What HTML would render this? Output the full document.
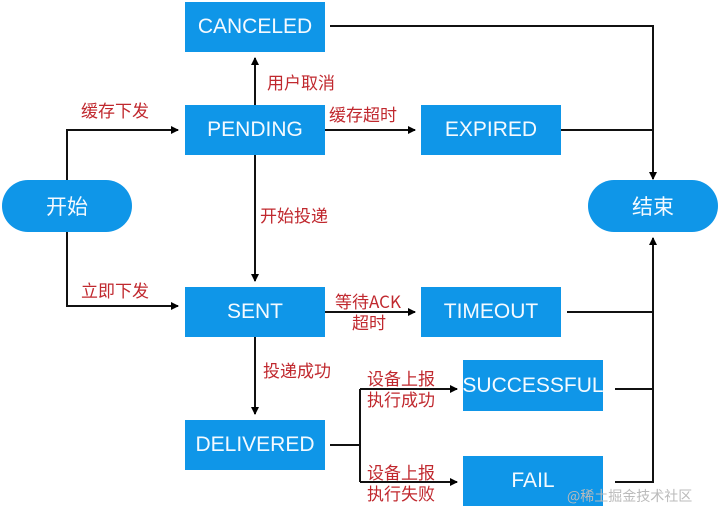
<!DOCTYPE html>
<html><head><meta charset="utf-8"><style>
body{margin:0;background:#fff;}
.w{position:relative;width:720px;height:520px;overflow:hidden;background:#fff;font-family:"Liberation Sans","Noto Sans CJK SC",sans-serif;}
.b{position:absolute;background:#0f96e8;color:#f4faff;display:flex;align-items:center;justify-content:center;font-size:21px;}
.p{border-radius:26px;}
.l{position:absolute;color:#c0282e;font-size:17px;line-height:21px;font-family:"Noto Sans CJK SC",sans-serif;}
svg{position:absolute;left:0;top:0;z-index:1;}
</style></head><body><div class="w">
<div class="b" style="left:185px;top:2px;width:140px;height:50px">CANCELED</div>
<div class="b" style="left:185px;top:105px;width:140px;height:50px">PENDING</div>
<div class="b" style="left:421px;top:105px;width:140px;height:50px">EXPIRED</div>
<div class="b p" style="left:2px;top:180px;width:130px;height:52px">开始</div>
<div class="b p" style="left:588px;top:180px;width:130px;height:52px">结束</div>
<div class="b" style="left:185px;top:287px;width:140px;height:50px">SENT</div>
<div class="b" style="left:421px;top:287px;width:140px;height:50px">TIMEOUT</div>
<div class="b" style="left:463px;top:360px;width:140px;height:51px">SUCCESSFUL</div>
<div class="b" style="left:185px;top:420px;width:140px;height:50px">DELIVERED</div>
<div class="b" style="left:463px;top:456px;width:140px;height:50px">FAIL</div>
<svg width="720" height="520">
<defs><marker id="a" markerWidth="8" markerHeight="8" refX="7" refY="4" orient="auto" markerUnits="userSpaceOnUse"><path d="M0,0 L8,4 L0,8z" fill="#000"/></marker></defs>
<g stroke="#111" stroke-width="2" fill="none">
<path d="M67,180 V130 H178" marker-end="url(#a)"/>
<path d="M67,232 V306 H178" marker-end="url(#a)"/>
<path d="M255,105 V58" marker-end="url(#a)"/>
<path d="M255,155 V281" marker-end="url(#a)"/>
<path d="M255,337 V414" marker-end="url(#a)"/>
<path d="M325,130 H415" marker-end="url(#a)"/>
<path d="M325,312 H415" marker-end="url(#a)"/>
<path d="M330,445 H360 M360,389 V482"/>
<path d="M360,389 H457" marker-end="url(#a)"/>
<path d="M360,482 H457" marker-end="url(#a)"/>
<path d="M330,26 H653 V179" marker-end="url(#a)"/>
<path d="M561,130 H653"/>
<path d="M567,312 H653 M615,389 H653 M615,482 H653 V240"/>
<path d="M653,242 V238" marker-end="url(#a)"/>
</g></svg>
<div class="l" style="left:81px;top:99px">缓存下发</div>
<div class="l" style="left:81px;top:279px">立即下发</div>
<div class="l" style="left:267px;top:71px">用户取消</div>
<div class="l" style="left:260px;top:204px">开始投递</div>
<div class="l" style="left:329px;top:103px">缓存超时</div>
<div class="l" style="left:335px;top:290px">等待ACK</div>
<div class="l" style="left:352px;top:311px">超时</div>
<div class="l" style="left:263px;top:359px">投递成功</div>
<div class="l" style="left:367px;top:367px">设备上报<br>执行成功</div>
<div class="l" style="left:367px;top:461px">设备上报<br>执行失败</div>
<div style="position:absolute;left:567px;top:486px;font-size:14px;color:#bbb;font-family:'Noto Sans CJK SC',sans-serif;z-index:2">@稀土掘金技术社区</div>
</div></body></html>
